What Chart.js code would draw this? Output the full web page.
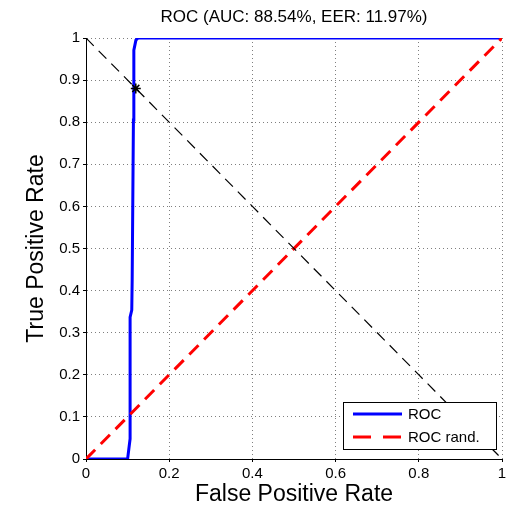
<!DOCTYPE html>
<html>
<head>
<meta charset="utf-8">
<script src="https://cdn.jsdelivr.net/npm/chart.js@4.4.0/dist/chart.umd.min.js"></script>
<style>
html, body { margin: 0; padding: 0; background: #fff; }
</style>
</head>
<body>
<canvas id="chart" width="510" height="509"></canvas>
<script>
// ROC curve
const rocFpr = [0, 0.100, 0.106, 0.106, 0.110, 0.111, 0.114, 0.115, 0.120, 0.125, 1];
const rocTpr = [0, 0, 0.048, 0.337, 0.354, 0.425, 0.805, 0.971, 0.995, 1, 1];
// random classifier diagonal
const randFpr = [0, 1];
const randTpr = [0, 1];
// EER line and point
const eerLineX = [0, 1];
const eerLineY = [1, 0];
const eerPoint = [0.1197, 0.8803];
const seriesNames = ["ROC", "ROC rand."];
const titleText = "ROC (AUC: 88.54%, EER: 11.97%)";

const FONT = "'Liberation Sans', Arial, Helvetica, sans-serif";

function pts(xs, ys) {
	return xs.map((x, i) => ({ x: x, y: ys[i] }));
}

// tick labels like matlab: 0, 0.2, ..., 1
const fmt = v => String(Number(v.toFixed(2)));

// legend box drawn inside the plot, matlab style
const boxLegend = {
	id: 'boxLegend',
	afterDraw(chart) {
		const ctx = chart.ctx;
		ctx.save();
		ctx.fillStyle = '#fff';
		ctx.strokeStyle = '#000';
		ctx.lineWidth = 1;
		ctx.fillRect(343.5, 402.5, 153, 47);
		ctx.strokeRect(343.5, 402.5, 153, 47);

		ctx.lineWidth = 3;
		ctx.strokeStyle = '#0000ff';
		ctx.beginPath(); ctx.moveTo(353, 414); ctx.lineTo(402, 414); ctx.stroke();
		ctx.strokeStyle = '#ff0000';
		ctx.setLineDash([18, 12]);
		ctx.beginPath(); ctx.moveTo(353, 437); ctx.lineTo(402, 437); ctx.stroke();
		ctx.setLineDash([]);

		ctx.fillStyle = '#000';
		ctx.font = '15px ' + FONT;
		ctx.textBaseline = 'middle';
		ctx.fillText(seriesNames[0], 408, 415);
		ctx.fillText(seriesNames[1], 408, 438);
		ctx.restore();
	}
};

const gridOpts = {
	color: 'rgba(0,0,0,0.5)', lineWidth: 1,
	drawTicks: true, tickLength: 3, tickColor: '#000', tickBorderDash: [], tickWidth: 1
};
const borderOpts = { display: true, color: '#000', width: 1, dash: [1, 3] };

new Chart(document.getElementById('chart'), {
	type: 'scatter',
	data: {
		datasets: [
			{
				label: 'EER',
				data: [{ x: eerPoint[0], y: eerPoint[1] }],
				pointStyle: 'star',
				radius: 5,
				borderColor: '#000',
				borderWidth: 1.5,
				showLine: false,
				order: 1
			},
			{
				label: 'EER line',
				data: pts(eerLineX, eerLineY),
				showLine: true,
				borderColor: '#000',
				borderWidth: 1.2,
				borderDash: [11, 7],
				pointRadius: 0,
				order: 2
			},
			{
				label: seriesNames[1],
				data: pts(randFpr, randTpr),
				showLine: true,
				borderColor: '#ff0000',
				borderWidth: 3,
				borderDash: [13, 8],
				pointRadius: 0,
				order: 3
			},
			{
				label: seriesNames[0],
				data: pts(rocFpr, rocTpr),
				showLine: true,
				borderColor: '#0000ff',
				borderWidth: 3,
				pointRadius: 0,
				order: 4
			}
		]
	},
	options: {
		responsive: false,
		animation: false,
		devicePixelRatio: 1,
		layout: { padding: { left: 0, right: 8, top: 0, bottom: 0 } },
		plugins: {
			legend: { display: false },
			tooltip: { enabled: false },
			title: {
				display: true,
				text: titleText,
				fullSize: false,
				color: '#000',
				font: { family: FONT, size: 17, weight: 'normal' },
				padding: { top: 7, bottom: 10.6 }
			}
		},
		scales: {
			x: {
				type: 'linear',
				min: 0, max: 1,
				afterFit: s => { s.height = 50; },
				ticks: { stepSize: 0.2, color: '#000', padding: 3, callback: fmt, font: { family: FONT, size: 15 } },
				grid: gridOpts,
				border: borderOpts,
				title: { display: true, text: 'False Positive Rate', color: '#000', font: { family: FONT, size: 23 }, padding: { top: 0, bottom: 1 } }
			},
			y: {
				type: 'linear',
				min: 0, max: 1,
				afterFit: s => { s.width = 86; },
				ticks: { stepSize: 0.1, color: '#000', padding: 3, callback: fmt, font: { family: FONT, size: 15 } },
				grid: gridOpts,
				border: borderOpts,
				title: { display: true, text: 'True Positive Rate', color: '#000', font: { family: FONT, size: 23 }, padding: { top: 23, bottom: 0 } }
			}
		}
	},
	plugins: [boxLegend]
});
</script>
</body>
</html>
